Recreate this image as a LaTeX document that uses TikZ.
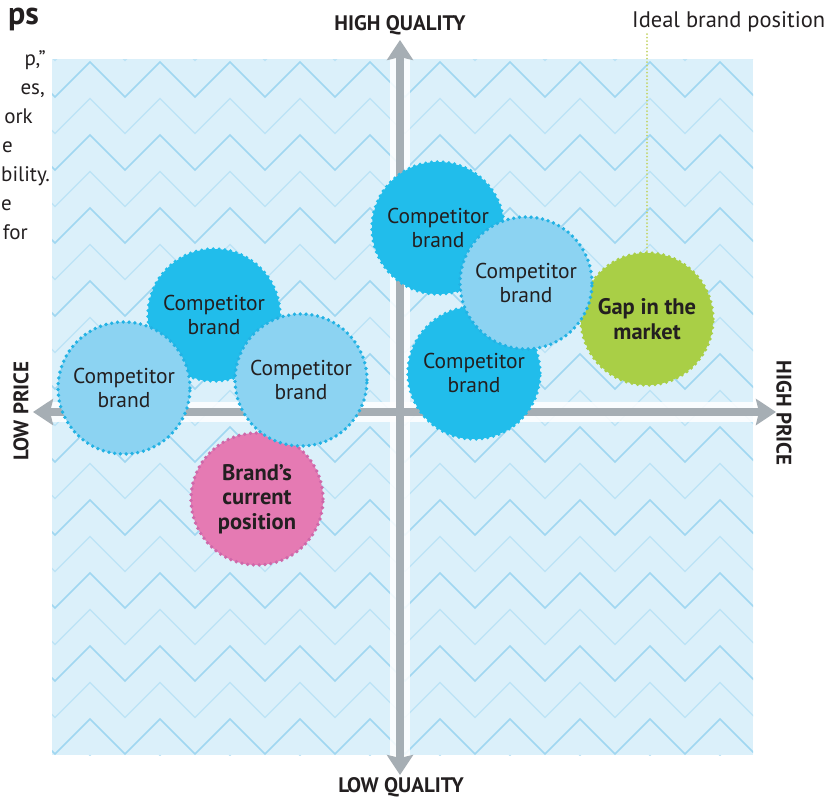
\documentclass[tikz,border=0pt]{standalone}
\usepackage{fontspec}
\setmainfont{PT Sans}
\usetikzlibrary{arrows.meta}
\definecolor{ink}{RGB}{35,31,32}
\definecolor{paneblue}{RGB}{219,240,250}
\definecolor{zigblue}{RGB}{160,215,241}
\definecolor{zigfaint}{RGB}{188,227,246}
\definecolor{discdark}{RGB}{33,189,235}
\definecolor{disclight}{RGB}{140,211,242}
\definecolor{dotblue}{RGB}{34,178,228}
\definecolor{discpink}{RGB}{229,122,179}
\definecolor{dotpink}{RGB}{206,104,170}
\definecolor{discgreen}{RGB}{169,207,70}
\definecolor{axisgrey}{RGB}{166,174,180}
\definecolor{idealdot}{RGB}{196,212,104}

\tikzset{
  disc/.style={circle, minimum size=132pt, inner sep=0pt, align=center, text=ink,
    font=\fontsize{21.5}{24}\selectfont, line width=3.8pt,
    dash pattern=on 0pt off 5.8pt, line cap=round},
  darkdisc/.style={disc, fill=discdark, draw=discdark},
  lightdisc/.style={disc, fill=disclight, draw=dotblue},
  pinkdisc/.style={disc, fill=discpink, draw=dotpink, font=\fontsize{22.5}{24.5}\selectfont\bfseries},
  greendisc/.style={disc, fill=discgreen, draw=discgreen, font=\fontsize{22.5}{25}\selectfont\bfseries},
  axislabel/.style={font=\fontsize{21}{21}\selectfont\bfseries, text=ink, inner sep=0pt},
  axishalo/.style={white, opacity=0.85, line width=20pt},
  axisline/.style={axisgrey, line width=8pt, {Stealth[length=20pt, width=26pt, inset=3pt]}-{Stealth[length=20pt, width=26pt, inset=3pt]}},
  zigzag/.style={zigblue, line width=1.5pt},
  zigzaglight/.style={zigfaint, line width=1.3pt},
  bodytext/.style={anchor=base east, inner sep=0pt, text=ink, font=\fontsize{21}{21}\selectfont},
  idealline/.style={idealdot, line width=2pt, dash pattern=on 0pt off 3.5pt, line cap=round},
}

\begin{document}
\begin{tikzpicture}[x=1pt, y=-1pt]
  \useasboundingbox (0,0) rectangle (838,798);
  \clip (0,0) rectangle (838,798);

  % patterned pane
  \begin{scope}
    \clip (52,59) rectangle (753,755);
    \fill[paneblue] (52,59) rectangle (753,755);
    \foreach \r in {-1,...,19} {
      \pgfmathsetmacro{\ytop}{62+36.5*\r}
      \ifodd\r \def\zig{zigzaglight}\else \def\zig{zigzag}\fi
      \draw[\zig] (20,\ytop) \foreach \k in {0,...,10} { -- ({55+70*\k},{\ytop+35}) -- ({90+70*\k},\ytop) };
    }
  \end{scope}

  % cropped page text on the left
  \node[anchor=base east, inner sep=0pt, text=ink, font=\fontsize{32}{32}\selectfont\bfseries] (head) at (39,24) {ps};
  \node[bodytext] (l1) at (46,65) {p,”};
  \node[bodytext] (l2) at (45,94) {es,};
  \node[bodytext] (l3) at (33,123) {ork};
  \node[bodytext] (l4) at (13,152) {e};
  \node[bodytext] (l5) at (50,181) {bility.};
  \node[bodytext] (l6) at (12,210) {e};
  \node[bodytext] (l7) at (28,239) {for};

  % axes
  \coordinate (qtop) at (400,40);
  \coordinate (qbot) at (400,775);
  \coordinate (pleft) at (33,412);
  \coordinate (pright) at (776,412);
  \draw[axishalo] (qtop) -- (qbot);
  \draw[axishalo] (pleft) -- (pright);
  \draw[axisline] (qbot) -- (qtop);
  \draw[axisline] (pleft) -- (pright);

  \node[axislabel] (hq) at (400,25) {HIGH QUALITY};
  \node[axislabel] (lq) at (401,787) {LOW QUALITY};
  \node[axislabel, rotate=90] (lp) at (21,411) {LOW PRICE};
  \node[axislabel, rotate=-90] (hp) at (784,413) {HIGH PRICE};

  % brands
  \node[darkdisc] (c1) at (438,228) {Competitor\\brand};
  \node[darkdisc] (c3) at (474,373) {Competitor\\brand};
  \node[darkdisc] (c5) at (214,315) {Competitor\\brand};
  \node[pinkdisc] (own) at (257,499) {Brand’s\\current\\position};
  \node[greendisc] (gap) at (647,319) {Gap in the\\market};
  \node[lightdisc] (c2) at (526,283) {Competitor\\brand};
  \node[lightdisc] (c6) at (124,388) {Competitor\\brand};
  \node[lightdisc] (c7) at (301,380) {Competitor\\brand};

  % ideal position marker
  \coordinate (idealtop) at (647,33);
  \draw[idealline] (gap.north) -- (idealtop);
  \node[anchor=base west, inner sep=0pt, text=ink, font=\fontsize{22.5}{22.5}\selectfont] (ideal) at (632,27) {Ideal brand position};
\end{tikzpicture}
\end{document}
